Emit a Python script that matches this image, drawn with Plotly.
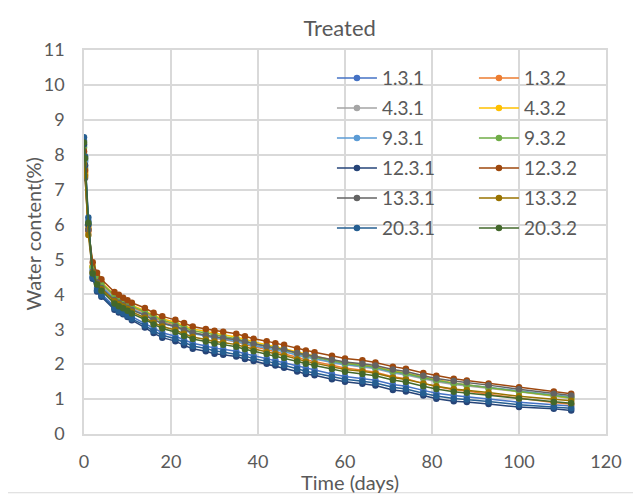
import plotly.graph_objects as go

# sampling times (days)
days = [0, 0.25, 1, 2, 3, 4, 7, 8, 9, 10, 11, 14, 16, 18, 21, 23, 25, 28, 30, 32, 35, 37, 39,
        42, 44, 46, 49, 51, 53, 57, 60, 64, 67, 71, 74, 78, 81, 85, 88, 93, 100, 108, 112]

s_1_3_1 = [8.40, 7.85, 6.10, 4.52, 4.18, 4.02, 3.65, 3.57, 3.51, 3.44, 3.36, 3.17, 3.02, 2.90, 2.80,
           2.69, 2.60, 2.52, 2.46, 2.43, 2.37, 2.30, 2.24, 2.16, 2.11, 2.05, 1.94, 1.88, 1.83, 1.72,
           1.65, 1.59, 1.54, 1.42, 1.37, 1.25, 1.17, 1.10, 1.07, 1.00, 0.91, 0.83, 0.80]
s_1_3_2 = [7.95, 7.45, 5.80, 4.80, 4.48, 4.30, 3.94, 3.86, 3.78, 3.71, 3.63, 3.47, 3.33, 3.22, 3.11,
           3.00, 2.90, 2.82, 2.75, 2.71, 2.64, 2.57, 2.50, 2.42, 2.36, 2.31, 2.20, 2.13, 2.08, 1.97,
           1.89, 1.83, 1.77, 1.64, 1.58, 1.45, 1.36, 1.27, 1.23, 1.14, 1.02, 0.90, 0.85]
s_4_3_1 = [8.05, 7.65, 5.95, 4.72, 4.43, 4.25, 3.89, 3.81, 3.74, 3.67, 3.59, 3.43, 3.29, 3.19, 3.09,
           2.99, 2.90, 2.83, 2.77, 2.74, 2.68, 2.61, 2.54, 2.47, 2.42, 2.37, 2.26, 2.20, 2.15, 2.05,
           1.98, 1.92, 1.87, 1.75, 1.69, 1.58, 1.50, 1.42, 1.38, 1.31, 1.21, 1.08, 1.02]
s_4_3_2 = [8.00, 7.50, 5.90, 4.80, 4.52, 4.35, 3.98, 3.91, 3.83, 3.76, 3.69, 3.53, 3.40, 3.30, 3.20,
           3.10, 3.01, 2.94, 2.88, 2.84, 2.78, 2.71, 2.64, 2.56, 2.50, 2.45, 2.35, 2.29, 2.23, 2.12,
           2.05, 1.99, 1.93, 1.81, 1.75, 1.63, 1.55, 1.46, 1.41, 1.33, 1.22, 1.09, 1.03]
s_9_3_1 = [8.25, 7.80, 6.05, 4.70, 4.40, 4.22, 3.87, 3.79, 3.72, 3.65, 3.57, 3.41, 3.27, 3.17, 3.07,
           2.97, 2.88, 2.81, 2.75, 2.72, 2.66, 2.60, 2.53, 2.46, 2.41, 2.36, 2.26, 2.20, 2.16, 2.06,
           1.99, 1.94, 1.89, 1.77, 1.72, 1.61, 1.53, 1.45, 1.41, 1.34, 1.24, 1.12, 1.07]
s_9_3_2 = [8.20, 7.60, 6.00, 4.78, 4.50, 4.32, 3.97, 3.89, 3.81, 3.74, 3.66, 3.50, 3.37, 3.26, 3.16,
           3.05, 2.96, 2.89, 2.83, 2.79, 2.73, 2.66, 2.59, 2.52, 2.46, 2.42, 2.31, 2.25, 2.20, 2.10,
           2.02, 1.96, 1.91, 1.79, 1.73, 1.61, 1.53, 1.45, 1.40, 1.32, 1.22, 1.10, 1.04]
s_12_3_1 = [8.30, 7.70, 6.00, 4.45, 4.08, 3.93, 3.56, 3.48, 3.43, 3.35, 3.26, 3.05, 2.89, 2.76, 2.66,
            2.54, 2.44, 2.37, 2.30, 2.27, 2.22, 2.15, 2.09, 2.01, 1.96, 1.90, 1.79, 1.72, 1.68, 1.57,
            1.50, 1.44, 1.39, 1.26, 1.22, 1.10, 1.01, 0.94, 0.92, 0.86, 0.77, 0.72, 0.67]
s_12_3_2 = [8.10, 7.55, 5.85, 4.92, 4.62, 4.43, 4.07, 3.99, 3.90, 3.83, 3.76, 3.61, 3.47, 3.37, 3.27,
            3.18, 3.08, 3.01, 2.96, 2.93, 2.87, 2.80, 2.73, 2.66, 2.60, 2.56, 2.45, 2.39, 2.34, 2.24,
            2.16, 2.11, 2.05, 1.93, 1.87, 1.75, 1.67, 1.58, 1.53, 1.45, 1.34, 1.22, 1.15]
s_13_3_1 = [7.70, 7.33, 5.85, 4.65, 4.35, 4.18, 3.84, 3.76, 3.69, 3.62, 3.55, 3.40, 3.27, 3.17, 3.08,
            2.98, 2.90, 2.83, 2.78, 2.75, 2.70, 2.64, 2.58, 2.51, 2.46, 2.42, 2.32, 2.27, 2.22, 2.13,
            2.06, 2.01, 1.96, 1.85, 1.79, 1.67, 1.59, 1.52, 1.48, 1.40, 1.28, 1.15, 1.10]
s_13_3_2 = [7.75, 7.40, 5.70, 4.62, 4.30, 4.15, 3.80, 3.72, 3.65, 3.58, 3.50, 3.33, 3.19, 3.08, 2.98,
            2.87, 2.78, 2.71, 2.65, 2.62, 2.56, 2.49, 2.43, 2.35, 2.30, 2.25, 2.14, 2.08, 2.03, 1.93,
            1.85, 1.80, 1.74, 1.62, 1.56, 1.45, 1.37, 1.29, 1.26, 1.19, 1.08, 0.99, 0.95]
s_20_3_1 = [8.50, 7.95, 6.20, 4.48, 4.12, 3.97, 3.60, 3.52, 3.46, 3.39, 3.30, 3.11, 2.95, 2.83, 2.73,
            2.62, 2.52, 2.45, 2.38, 2.35, 2.29, 2.23, 2.16, 2.09, 2.03, 1.97, 1.86, 1.80, 1.75, 1.64,
            1.57, 1.51, 1.46, 1.34, 1.29, 1.17, 1.09, 1.02, 0.99, 0.93, 0.84, 0.77, 0.74]
s_20_3_2 = [8.35, 7.90, 6.05, 4.60, 4.28, 4.10, 3.74, 3.66, 3.60, 3.53, 3.45, 3.28, 3.14, 3.02, 2.92,
            2.81, 2.72, 2.65, 2.59, 2.56, 2.50, 2.43, 2.37, 2.29, 2.24, 2.18, 2.08, 2.01, 1.96, 1.86,
            1.78, 1.72, 1.67, 1.55, 1.49, 1.37, 1.29, 1.21, 1.18, 1.11, 1.02, 0.92, 0.88]

series = [
    ("1.3.1", s_1_3_1, "#4472C4"), ("1.3.2", s_1_3_2, "#ED7D31"),
    ("4.3.1", s_4_3_1, "#A5A5A5"), ("4.3.2", s_4_3_2, "#FFC000"),
    ("9.3.1", s_9_3_1, "#5B9BD5"), ("9.3.2", s_9_3_2, "#70AD47"),
    ("12.3.1", s_12_3_1, "#264478"), ("12.3.2", s_12_3_2, "#9E480E"),
    ("13.3.1", s_13_3_1, "#636363"), ("13.3.2", s_13_3_2, "#997300"),
    ("20.3.1", s_20_3_1, "#255E91"), ("20.3.2", s_20_3_2, "#43682B"),
]

FONT = "Lato, Open Sans, sans-serif"
GREY = "#595959"
GRID = "#D9D9D9"

fig = go.Figure()
for name, vals, color in series:
    # left legend column holds the *.1 samples, right one the *.2 samples
    leg = "legend" if name.endswith(".1") else "legend2"
    fig.add_trace(go.Scatter(
        x=days, y=vals, name=name, mode="lines+markers",
        line=dict(color=color, width=1.5),
        marker=dict(color=color, size=6.5),
        legend=leg, legendgroup=name,
    ))

legend_style = dict(
    font=dict(family=FONT, size=19, color=GREY),
    bgcolor="rgba(255,255,255,0)", tracegroupgap=2.3, itemwidth=40,
    yanchor="top", xanchor="left", y=0.976,
)

# the page body adds an 8px margin, so the figure is 8px smaller than the window
fig.update_layout(
    width=633, height=487,
    margin=dict(l=76, r=35, t=42, b=61),
    paper_bgcolor="white", plot_bgcolor="white",
    font=dict(family=FONT, color=GREY),
    title=dict(text="Treated", x=0.524, xanchor="center", y=0.959, yanchor="middle",
               font=dict(family=FONT, size=22, color=GREY)),
    legend=dict(x=0.475, **legend_style),
    legend2=dict(x=0.747, **legend_style),
    xaxis=dict(range=[0, 120], dtick=20, showgrid=True, gridcolor=GRID, gridwidth=1.5,
               zeroline=False, showline=True, linecolor=GRID, linewidth=1.5, mirror=True,
               ticks="", ticklabelstandoff=11, automargin=False,
               tickfont=dict(family=FONT, size=18, color=GREY)),
    yaxis=dict(range=[0, 11], dtick=1, showgrid=True, gridcolor=GRID, gridwidth=1.5,
               zeroline=False, showline=True, linecolor=GRID, linewidth=1.5, mirror=True,
               ticks="", ticklabelstandoff=14, automargin=False,
               tickfont=dict(family=FONT, size=18, color=GREY)),
    showlegend=True,
)

# axis titles placed as in the reference (x title sits right under the tick labels)
fig.add_annotation(text="Time (days)", xref="paper", yref="paper", x=0.51, y=-0.125,
                   showarrow=False, xanchor="center", yanchor="middle",
                   font=dict(family=FONT, size=20, color=GREY))
fig.add_annotation(text="Water content(%)", xref="paper", yref="paper", x=-0.098, y=0.522,
                   showarrow=False, xanchor="center", yanchor="middle", textangle=-90,
                   font=dict(family=FONT, size=20, color=GREY))

# chart-area border
fig.add_shape(type="rect", xref="paper", yref="paper", x0=-0.152, x1=1.059, y0=-0.153, y1=1.118,
              line=dict(color=GRID, width=1), layer="below")

fig.write_html("out.html")
